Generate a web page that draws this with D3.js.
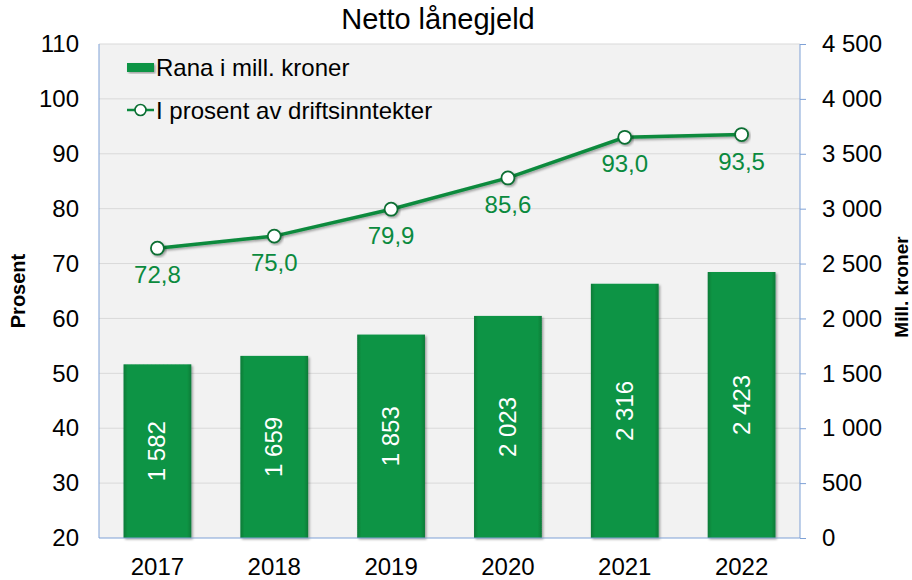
<!DOCTYPE html>
<html><head><meta charset="utf-8">
<script src="https://cdn.jsdelivr.net/npm/d3@7"></script>
<style>body{margin:0;background:#fff}svg{display:block;font-family:"Liberation Sans",Arial,sans-serif}</style>
</head><body><svg id="c" width="912" height="580"></svg>
<script>
const years = ["2017","2018","2019","2020","2021","2022"];
const millKroner = [1582,1659,1853,2023,2316,2423];
const prosent = [72.8,75.0,79.9,85.6,93.0,93.5];
const leftTicks = [20,30,40,50,60,70,80,90,100,110];
const rightTicks = [0,500,1000,1500,2000,2500,3000,3500,4000,4500];

const svg = d3.select("#c");
const L=99,R=800,T=44,B=538;
const FS=24;
const green="#0a9444", lineGreen="#0b8a3e", axisBlue="#7ea1d6";
const x = d3.scaleBand().domain(years).range([L,R]).paddingInner(0.42).paddingOuter(0.21);
const yL = d3.scaleLinear().domain([20,110]).range([B,T]);
const yR = d3.scaleLinear().domain([0,4500]).range([B,T]);
const nb = v => d3.format(",")(v).replace(/,/g," ");
const nc = v => d3.format(".1f")(v).replace(".",",");

const defs = svg.append("defs");
const g1 = defs.append("linearGradient").attr("id","bg").attr("x1",0).attr("x2",1);
g1.append("stop").attr("offset",0).attr("stop-color","#087a37");
g1.append("stop").attr("offset",0.06).attr("stop-color","#0a9444");
g1.append("stop").attr("offset",0.94).attr("stop-color","#0a9444");
g1.append("stop").attr("offset",1).attr("stop-color","#087a37");
const f = defs.append("filter").attr("id","sh").attr("x","-20%").attr("y","-20%").attr("width","140%").attr("height","140%");
f.append("feDropShadow").attr("dx",1.5).attr("dy",1.5).attr("stdDeviation",1.2).attr("flood-color","#000").attr("flood-opacity",0.35);

// plot background
svg.append("rect").attr("x",L).attr("y",T).attr("width",R-L).attr("height",B-T).attr("fill","#f2f2f2");
// gridlines
svg.append("g").selectAll("line").data(leftTicks.slice(1)).join("line")
  .attr("x1",L).attr("x2",R).attr("y1",d=>yL(d)).attr("y2",d=>yL(d))
  .attr("stroke","#d9d9d9").attr("stroke-width",1);

// bars
svg.append("g").selectAll("rect").data(years).join("rect")
  .attr("x",d=>x(d)).attr("width",x.bandwidth())
  .attr("y",(d,i)=>yR(millKroner[i])).attr("height",(d,i)=>B-yR(millKroner[i]))
  .attr("fill","url(#bg)").attr("filter","url(#sh)");
// bar labels
svg.append("g").selectAll("text").data(years).join("text")
  .attr("transform",(d,i)=>`translate(${x(d)+x.bandwidth()/2+8},${(yR(millKroner[i])+B)/2}) rotate(-90)`)
  .attr("text-anchor","middle").attr("fill","#fff").attr("font-size",FS)
  .text((d,i)=>nb(millKroner[i]));

// axes lines
svg.append("line").attr("x1",L).attr("x2",L).attr("y1",T).attr("y2",B).attr("stroke",axisBlue);
svg.append("line").attr("x1",R).attr("x2",R).attr("y1",T).attr("y2",B).attr("stroke",axisBlue);
svg.append("line").attr("x1",L).attr("x2",R).attr("y1",B).attr("y2",B).attr("stroke",axisBlue);

// left axis
const axL = svg.append("g").attr("transform",`translate(${L},0)`)
  .call(d3.axisLeft(yL).tickValues(leftTicks).tickSize(0).tickPadding(20).tickFormat(d=>d));
axL.select(".domain").remove();
axL.selectAll("text").attr("font-size",FS).attr("fill","#000").attr("font-family","Liberation Sans, Arial, sans-serif");
// right axis
const axR = svg.append("g").attr("transform",`translate(${R},0)`)
  .call(d3.axisRight(yR).tickValues(rightTicks).tickSize(6).tickPadding(16).tickFormat(nb));
axR.select(".domain").remove();
axR.selectAll("line").attr("stroke",axisBlue);
axR.selectAll("text").attr("font-size",FS).attr("fill","#000").attr("font-family","Liberation Sans, Arial, sans-serif");
// bottom axis
const axB = svg.append("g").attr("transform",`translate(0,${B})`)
  .call(d3.axisBottom(x).tickSize(0).tickPadding(20));
axB.select(".domain").remove();
axB.selectAll("text").attr("font-size",FS).attr("fill","#000").attr("font-family","Liberation Sans, Arial, sans-serif");

// line
const cx = d => x(d)+x.bandwidth()/2;
const line = d3.line().x((d,i)=>cx(years[i])).y(d=>yL(d));
svg.append("path").datum(prosent).attr("d",line).attr("fill","none")
  .attr("stroke",lineGreen).attr("stroke-width",3.5).attr("filter","url(#sh)");
svg.append("g").selectAll("circle").data(prosent).join("circle")
  .attr("cx",(d,i)=>cx(years[i])).attr("cy",d=>yL(d)).attr("r",6.5)
  .attr("fill","#fff").attr("stroke","#0a6e32").attr("stroke-width",1.8).attr("filter","url(#sh)");
svg.append("g").selectAll("text").data(prosent).join("text")
  .attr("x",(d,i)=>cx(years[i])).attr("y",d=>yL(d)+35)
  .attr("text-anchor","middle").attr("fill","#0b8a3e").attr("font-size",FS)
  .text(nc);

// title
svg.append("text").attr("x",438).attr("y",29).attr("text-anchor","middle")
  .attr("font-size",29).attr("fill","#000").text("Netto lånegjeld");

// axis titles
svg.append("text").attr("transform",`translate(25,${(T+B)/2}) rotate(-90)`)
  .attr("text-anchor","middle").attr("font-size",20).attr("font-weight","bold").text("Prosent");
svg.append("text").attr("transform",`translate(908,${(T+B)/2-4}) rotate(-90)`)
  .attr("text-anchor","middle").attr("font-size",19).attr("font-weight","bold").text("Mill. kroner");

// legend
const lg = svg.append("g");
lg.append("rect").attr("x",127).attr("y",63).attr("width",27).attr("height",9).attr("fill",green).attr("filter","url(#sh)");
lg.append("text").attr("x",156).attr("y",76).attr("font-size",FS).text("Rana i mill. kroner");
lg.append("line").attr("x1",127).attr("x2",154).attr("y1",110).attr("y2",110).attr("stroke",lineGreen).attr("stroke-width",2.5);
lg.append("circle").attr("cx",140.5).attr("cy",110).attr("r",5.5).attr("fill","#fff").attr("stroke","#0a6e32").attr("stroke-width",1.6);
lg.append("text").attr("x",156).attr("y",119).attr("font-size",FS).text("I prosent av driftsinntekter");
</script></body></html>
